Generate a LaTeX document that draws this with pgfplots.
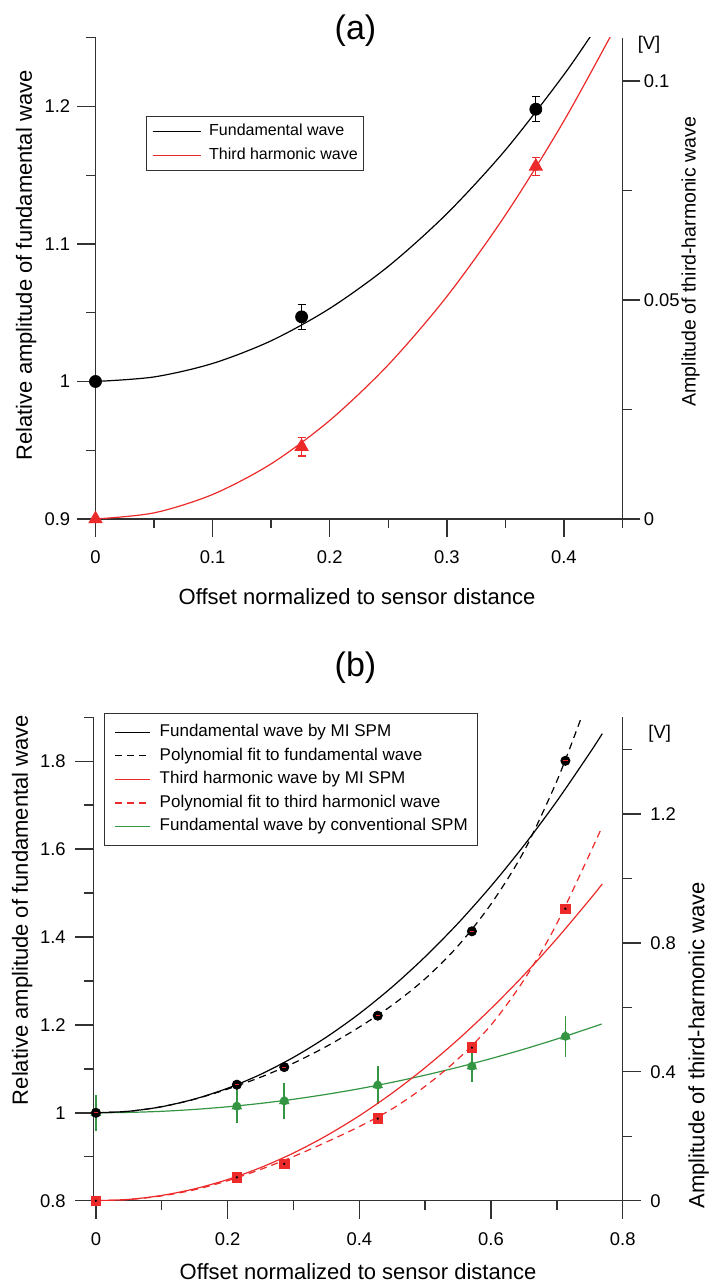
\documentclass[border=0pt]{standalone}
\usepackage{fontspec}
\setmainfont{Liberation Sans}
\usepackage{pgfplots}
\usepackage{pgfplotstable}
\pgfplotsset{compat=1.18}
\definecolor{rc}{RGB}{236,42,42}
\definecolor{gc}{RGB}{52,150,66}
\definecolor{ax}{RGB}{50,50,50}

% ---------- data, panel (a) ----------
\pgfplotstableread{
x y
0 1.000
0.176 1.047
0.376 1.198
}\fundA
\pgfplotstableread{
x y e
0.176 1.047 0.009
0.376 1.198 0.009
}\fundAerr
\pgfplotstableread{
x y
0 0
0.176 0.0165
0.376 0.0805
}\thirdA
\pgfplotstableread{
x y e
0.176 0.0165 0.0021
0.376 0.0805 0.0020
}\thirdAerr
\pgfplotstableread{
x y
0 1.000
0.05 1.0033
0.1 1.0131
0.15 1.0296
0.2 1.0531
0.25 1.0837
0.3 1.1220
0.35 1.1683
0.4 1.2231
0.43 1.2604
}\fundAcurve
\pgfplotstableread{
x y
0 0
0.05 0.0014
0.1 0.0056
0.15 0.0126
0.2 0.0225
0.25 0.0352
0.3 0.0508
0.35 0.0694
0.4 0.0909
0.45 0.1153
}\thirdAcurve

% ---------- data, panel (b) ----------
\pgfplotstableread{
x y
0 1.000
0.214 1.064
0.286 1.104
0.428 1.221
0.571 1.413
0.713 1.801
}\fundB
\pgfplotstableread{
x y e
0 1.000 0.041
0.214 1.015 0.039
0.286 1.027 0.041
0.428 1.063 0.043
0.571 1.106 0.036
0.713 1.174 0.047
}\convB
\pgfplotstableread{
x y
0 0
0.214 0.0725
0.286 0.114
0.428 0.255
0.571 0.475
0.713 0.906
}\thirdB
\pgfplotstableread{
x y
0 1.0000
0.05 1.0035
0.1 1.0139
0.15 1.0314
0.2 1.0559
0.25 1.0874
0.3 1.1262
0.35 1.1722
0.4 1.2256
0.45 1.2865
0.5 1.3551
0.55 1.4314
0.6 1.5158
0.65 1.6083
0.7 1.7092
0.75 1.8188
0.769 1.8628
}\fundBcurve
\pgfplotstableread{
x y
0 1.000
0.05 1.0035
0.1 1.014
0.15 1.031
0.2 1.054
0.25 1.081
0.3 1.113
0.35 1.151
0.4 1.195
0.45 1.245
0.5 1.305
0.55 1.380
0.6 1.475
0.65 1.595
0.7 1.755
0.7373 1.900
}\fundBfit
\pgfplotstableread{
x y
0 1.0000
0.05 1.0009
0.1 1.0034
0.15 1.0077
0.2 1.0137
0.25 1.0214
0.3 1.0308
0.35 1.0420
0.4 1.0548
0.45 1.0694
0.5 1.0857
0.55 1.1037
0.6 1.1234
0.65 1.1448
0.7 1.1679
0.75 1.1928
0.768 1.2021
}\convBcurve
\pgfplotstableread{
x y
0 0
0.05 0.0041
0.1 0.0164
0.15 0.0369
0.2 0.0656
0.25 0.1026
0.3 0.1479
0.35 0.2016
0.4 0.2636
0.45 0.3340
0.5 0.4129
0.55 0.5002
0.6 0.5960
0.65 0.7003
0.7 0.8132
0.75 0.9346
0.769 0.9830
}\thirdBcurve
\pgfplotstableread{
x y
0 0
0.05 0.0035
0.1 0.015
0.15 0.034
0.2 0.062
0.25 0.097
0.3 0.137
0.35 0.182
0.4 0.230
0.45 0.285
0.5 0.355
0.55 0.440
0.6 0.545
0.65 0.685
0.7 0.860
0.769 1.161
}\thirdBfit

\pgfplotsset{
  base/.style={
    scale only axis,
    clip mode=individual,
    tick align=outside,
    major tick length=9pt,
    minor tick length=4.75pt,
    tick style={ax, line width=0.7pt},
    axis line style={ax, line width=0.7pt, -},
    tick label style={font=\fontsize{9.2}{9.2}\selectfont, /pgf/number format/assume math mode=true, inner sep=0pt},
    xticklabel shift=6.85pt,
    scaled ticks=false,
    /pgf/number format/fixed,
    /pgf/number format/precision=2,
  },
  curve/.style={line width=0.6pt, no marks, smooth},
  dsh/.style={dash pattern=on 3.5pt off 2.5pt},
}

\begin{document}
\begin{tikzpicture}

% ================= panel (a) =================
\begin{axis}[base, at={(47.75pt,382.5pt)}, anchor=south west,
  width=263.5pt, height=240.65pt,
  xmin=0, xmax=0.45, ymin=0.9, ymax=1.25,
  axis x line*=bottom, axis y line*=left,
  yticklabel shift=3.5pt,
  xtick={0,0.1,0.2,0.3,0.4}, minor xtick={0.05,0.15,0.25,0.35,0.45},
  ytick={0.9,1,1.1,1.2}, minor ytick={0.95,1.05,1.15,1.25},
]
\addplot[curve, black] table {\fundAcurve};
\addplot[black, only marks, mark=none, error bars/.cd, y dir=both, y explicit,
  error mark options={rotate=90, black, mark size=2pt, line width=0.6pt},
  error bar style={line width=0.6pt}] table[y error=e] {\fundAerr};
\addplot[only marks, mark=*, mark size=3pt, black] table {\fundA};
\end{axis}

\begin{axis}[base, at={(47.75pt,382.5pt)}, anchor=south west,
  width=263.5pt, height=240.65pt,
  xmin=0, xmax=0.45, ymin=0, ymax=0.1099,
  axis x line=none, axis y line*=right,
  yticklabel shift=1.5pt,
  ytick={0,0.05,0.1}, minor ytick={0.025,0.075},
  legend style={at={(0.0949,0.838)}, anchor=north west, draw=ax, line width=0.5pt, fill=white,
    font=\fontsize{8}{8}\selectfont, inner xsep=3pt, inner ysep=2.5pt, row sep=2.15pt, column sep=4pt,
    nodes={inner sep=0pt, inner ysep=1pt, text height=6pt, text depth=2pt}},
  legend cell align=left,
  legend image code/.code={\draw[#1] (0pt,0pt) -- (24pt,0pt);},
]
\addlegendimage{black, line width=0.6pt}
\addlegendentry{Fundamental wave}
\addplot[curve, rc] table {\thirdAcurve};
\addlegendentry{Third harmonic wave}
\addplot[forget plot, rc, only marks, mark=none, error bars/.cd, y dir=both, y explicit,
  error mark options={rotate=90, rc, mark size=2pt, line width=0.6pt},
  error bar style={line width=0.6pt}] table[y error=e] {\thirdAerr};
\addplot[forget plot, only marks, mark=triangle*, mark size=3.8pt, rc] table {\thirdA};
\end{axis}

% ================= panel (b) =================
\begin{axis}[base, at={(46.65pt,41.65pt)}, anchor=south west,
  width=264.7pt, height=241.7pt,
  xmin=-0.004, xmax=0.8, ymin=0.8, ymax=1.9,
  axis x line*=bottom, axis y line*=left,
  yticklabel shift=4.6pt,
  xtick={0,0.2,0.4,0.6,0.8}, minor xtick={0.1,0.3,0.5,0.7},
  ytick={0.8,1,1.2,1.4,1.6,1.8}, minor ytick={0.9,1.1,1.3,1.5,1.7,1.9},
]
\addplot[curve, gc] table {\convBcurve};
\addplot[gc, only marks, mark=none, error bars/.cd, y dir=both, y explicit,
  error mark=none, error bar style={line width=0.8pt, gc}] table[y error=e] {\convB};
\addplot[only marks, mark=triangle*, mark size=2.7pt, gc] table {\convB};
\addplot[curve, black] table {\fundBcurve};
\addplot[curve, black, dsh] table {\fundBfit};
\addplot[only marks, mark=*, mark size=2.3pt, black] table {\fundB};
\addplot[only marks, mark=-, mark size=1.1pt, rc, mark options={line width=0.5pt}] table {\fundB};
\end{axis}

\begin{axis}[base, at={(46.65pt,41.65pt)}, anchor=south west,
  width=264.7pt, height=241.7pt,
  xmin=-0.004, xmax=0.8, ymin=0, ymax=1.5,
  axis x line=none, axis y line*=right,
  yticklabel shift=4.6pt,
  ytick={0,0.4,0.8,1.2}, minor ytick={0.2,0.6,1.0,1.4},
  legend style={at={(0.0208,1.0095)}, anchor=north west, draw=ax, line width=0.5pt, fill=white,
    font=\fontsize{8.5}{8.5}\selectfont, inner xsep=4.65pt, inner ysep=4.75pt, row sep=2.3pt, column sep=4.5pt,
    nodes={inner sep=0pt, inner ysep=0.5pt, text height=6.4pt, text depth=2.1pt}},
  legend cell align=left,
  legend image code/.code={\draw[#1] (0pt,0pt) -- (17.7pt,0pt);},
]
\addlegendimage{black, line width=0.6pt}
\addlegendentry{Fundamental wave by MI SPM}
\addlegendimage{black, line width=0.6pt, dsh}
\addlegendentry{Polynomial fit to fundamental wave}
\addplot[curve, rc] table {\thirdBcurve};
\addlegendentry{Third harmonic wave by MI SPM}
\addplot[curve, rc, dsh] table {\thirdBfit};
\addlegendentry{Polynomial fit to third harmonicl wave}
\addlegendimage{gc, line width=0.6pt}
\addlegendentry{Fundamental wave by conventional SPM}
\addplot[forget plot, only marks, mark=square*, mark size=2.4pt, rc] table {\thirdB};
\addplot[forget plot, only marks, mark=*, mark size=0.35pt, black] table {\thirdB};
\end{axis}

% ================= titles and labels =================
\node[anchor=base, font=\fontsize{17}{17}\selectfont] at (177.75pt,622pt) {(a)};
\node[anchor=base, font=\fontsize{17}{17}\selectfont] at (177.75pt,303.5pt) {(b)};

\node[anchor=base, font=\fontsize{11}{11}\selectfont] at (178.5pt,339.5pt) {Offset normalized to sensor distance};
\node[anchor=base, font=\fontsize{11}{11}\selectfont] at (179pt,2pt) {Offset normalized to sensor distance};

\node[rotate=90, anchor=base, font=\fontsize{11}{11}\selectfont] at (15.9pt,509.25pt) {Relative amplitude of fundamental wave};
\node[rotate=90, anchor=base, font=\fontsize{11}{11}\selectfont] at (13.9pt,187pt) {Relative amplitude of fundamental wave};

\node[rotate=90, anchor=base, font=\fontsize{9.75}{9.75}\selectfont] at (347.85pt,511.15pt) {Amplitude of third-harmonic wave};
\node[rotate=90, anchor=base, font=\fontsize{11}{11}\selectfont] at (352.2pt,119.5pt) {Amplitude of third-harmonic wave};

\node[font=\fontsize{9.2}{9.2}\selectfont] at (324.5pt,619.5pt) {[V]};
\node[font=\fontsize{9.2}{9.2}\selectfont] at (329.85pt,275.35pt) {[V]};

\pgfresetboundingbox
\path[use as bounding box] (0pt,0pt) rectangle (356pt,642pt);
\end{tikzpicture}
\end{document}
